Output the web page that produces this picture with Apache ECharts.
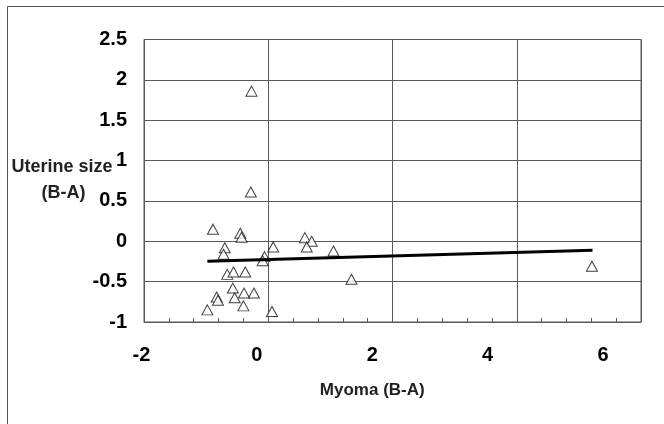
<!DOCTYPE html>
<html>
<head>
<meta charset="utf-8">
<style>html,body{margin:0;padding:0;background:#fff}#c{width:664px;height:424px}</style>
<script src="https://cdn.jsdelivr.net/npm/echarts@6/dist/echarts.min.js"></script>
</head>
<body>
<div id="c"></div>
<script>
// Data
var myomaX = [-0.27, -0.28, -0.89, -0.45, -0.43, -0.70, -0.72, 0.08, -0.06, -0.09,
              0.59, 0.70, 0.62, 1.05, 1.34, 5.21, -0.66, -0.56, -0.37, -0.57,
              -0.39, -0.23, -0.83, -0.81, -0.54, -0.40, -0.98, 0.06];
var uterineY = [1.86, 0.61, 0.15, 0.10, 0.05, -0.08, -0.16, -0.07, -0.19, -0.24,
                0.045, 0.0, -0.07, -0.12, -0.47, -0.31, -0.41, -0.38, -0.38, -0.58,
                -0.64, -0.64, -0.69, -0.73, -0.70, -0.80, -0.85, -0.87];
var trendX = [-0.98, 5.22];
var trendY = [-0.246, -0.11];
var xTicks = [-2, 0, 2, 4, 6];
var yTicks = [-1, -0.5, 0, 0.5, 1, 1.5, 2, 2.5];

var points = myomaX.map(function (x, i) { return [x, uterineY[i]]; });
var trend = trendX.map(function (x, i) { return [x, trendY[i]]; });

var gridColor = '#5a5a5a';
var font = 'Liberation Sans, Arial, sans-serif';

var chart = echarts.init(document.getElementById('c'), null, {renderer: 'canvas'});
chart.setOption({
  animation: false,
  backgroundColor: '#fff',
  grid: [
    {left: 144, top: 39.5, right: 23, bottom: 102, show: true, borderColor: gridColor, borderWidth: 1, backgroundColor: 'transparent'},
    {left: 141.5, top: 39.5, right: 61, bottom: 102, show: false}
  ],
  xAxis: [
    {
      type: 'value', gridIndex: 0, min: xTicks[0], max: xTicks[xTicks.length - 1], interval: 2,
      axisLine: {show: true, onZero: false, lineStyle: {color: gridColor, width: 1}},
      axisTick: {show: true, inside: true, length: 4, lineStyle: {color: gridColor}},
      minorTick: {show: true, splitNumber: 5, length: 4, lineStyle: {color: gridColor, width: 1}},
      axisLabel: {show: false},
      splitLine: {show: true, lineStyle: {color: gridColor, width: 1}}
    },
    {
      type: 'value', gridIndex: 1, min: xTicks[0], max: xTicks[xTicks.length - 1], interval: 2,
      axisLine: {show: false}, axisTick: {show: false}, splitLine: {show: false},
      axisLabel: {show: true, margin: 23, color: '#000', fontWeight: 'bold', fontSize: 20, fontFamily: font},
      name: 'Myoma (B-A)', nameLocation: 'middle', nameGap: 60,
      nameTextStyle: {color: '#222', fontWeight: 'bold', fontSize: 17, fontFamily: font}
    }
  ],
  yAxis: [
    {
      type: 'value', gridIndex: 0, min: yTicks[0], max: yTicks[yTicks.length - 1], interval: 0.5,
      axisLine: {show: true, onZero: false, lineStyle: {color: gridColor, width: 1}},
      axisTick: {show: false},
      axisLabel: {show: true, margin: 17, color: '#000', fontWeight: 'bold', fontSize: 20, fontFamily: font},
      splitLine: {show: true, lineStyle: {color: gridColor, width: 1}}
    },
    {
      type: 'value', gridIndex: 1, min: yTicks[0], max: yTicks[yTicks.length - 1], show: false
    }
  ],
  graphic: [
    {type: 'rect', shape: {x: 7.5, y: 6.5, width: 700, height: 500}, style: {fill: 'none', stroke: '#555', lineWidth: 1}, silent: true, z: 0},
    {type: 'text', x: 62, y: 167, style: {text: 'Uterine size', fontSize: 18, fontWeight: 'bold', fontFamily: font, fill: '#222', align: 'center', verticalAlign: 'middle'}, z: 10},
    {type: 'text', x: 63.5, y: 193, style: {text: '(B-A)', fontSize: 18, fontWeight: 'bold', fontFamily: font, fill: '#222', align: 'center', verticalAlign: 'middle'}, z: 10}
  ],
  series: [
    {
      type: 'scatter', xAxisIndex: 0, yAxisIndex: 0, data: points,
      symbol: 'triangle', symbolSize: [11, 10],
      itemStyle: {color: '#fff', borderColor: '#111', borderWidth: 1},
      z: 3
    },
    {
      type: 'line', xAxisIndex: 0, yAxisIndex: 0, data: trend,
      symbol: 'none', lineStyle: {color: '#000', width: 3}, z: 4
    }
  ]
});
</script>
</body>
</html>
